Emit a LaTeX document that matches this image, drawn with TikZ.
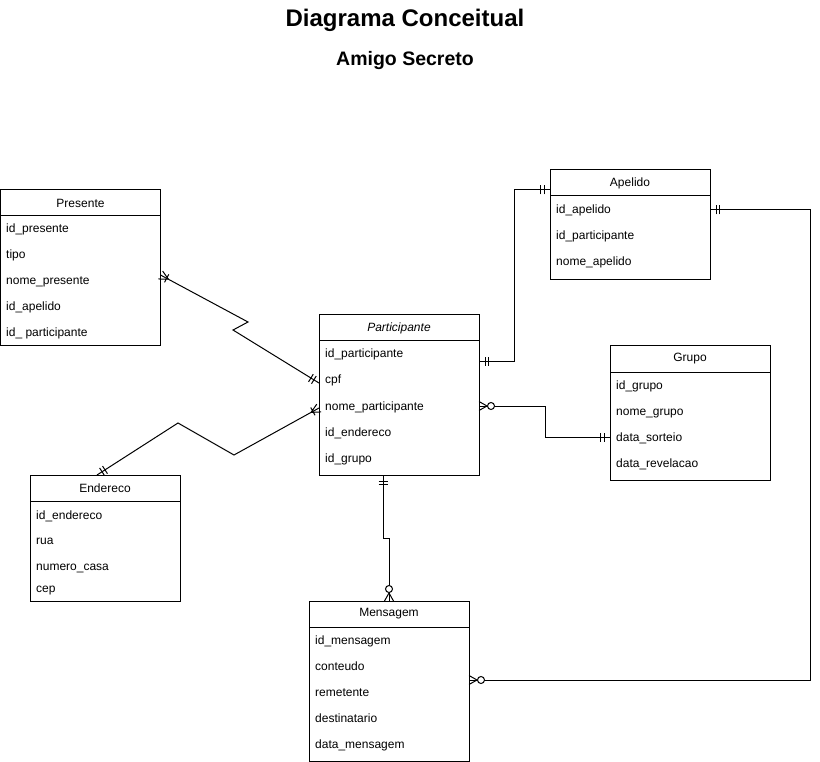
\documentclass[tikz,border=0pt]{standalone}
\usepackage{fontspec}
\setmainfont{Liberation Sans}
\usetikzlibrary{positioning,decorations.markings}

% pontas das ligacoes (desenhadas com a linha chegando por -x)
\newcommand{\mkum}{\draw[line width=1pt] (-6pt,-4.5pt) -- (-6pt,4.5pt) (-9.5pt,-4.5pt) -- (-9.5pt,4.5pt);}
\newcommand{\mkmuitos}{\draw[line width=1pt] (-9pt,0pt) -- (0pt,4.5pt) (-9pt,0pt) -- (0pt,-4.5pt) (-7pt,-4.5pt) -- (-7pt,4.5pt);}
\newcommand{\mkzeromuitos}{\draw[line width=1pt] (-8pt,0pt) -- (0pt,4.5pt) (-8pt,0pt) -- (0pt,-4.5pt);
  \draw[line width=1pt,fill=white] (-12pt,0pt) circle (3.5pt);}

\tikzset{
  cab/.style={draw, rectangle, line width=1pt, minimum width=160pt, minimum height=26pt,
    inner sep=0pt, outer sep=0pt, font=\fontsize{12}{14}\selectfont},
  corpo/.style={draw, rectangle, line width=1pt, minimum width=160pt, inner sep=0pt, outer sep=0pt},
  campo/.style={anchor=west, inner sep=0pt, text height=9pt, text depth=3pt, font=\fontsize{12}{14}\selectfont},
  lig/.style={line width=1pt},
  ponta/.style 2 args={postaction={decorate,decoration={markings,mark=at position #1 with {#2}}}},
  uminicio/.style={ponta={0}{\begin{scope}[xscale=-1]\mkum\end{scope}}},
  umfim/.style={ponta={1}{\mkum}},
  muitosinicio/.style={ponta={0}{\begin{scope}[xscale=-1]\mkmuitos\end{scope}}},
  muitosfim/.style={ponta={1}{\mkmuitos}},
  zminicio/.style={ponta={0}{\begin{scope}[xscale=-1]\mkzeromuitos\end{scope}}},
  zmfim/.style={ponta={1}{\mkzeromuitos}}
}

\begin{document}
\begin{tikzpicture}[x=1pt,y=-1pt]
\useasboundingbox (0,0) rectangle (820,762);

\node[font=\bfseries\fontsize{24}{28}\selectfont] (titulo) at (405,20) {Diagrama Conceitual};
\node[font=\bfseries\fontsize{19.5}{24}\selectfont] (sub) at (405,61) {Amigo Secreto};

% Presente
\node[cab] (pres) at (80.5,203) {Presente};
\node[corpo, minimum height=130pt, below=0pt of pres] (presc) {};
\foreach \t [count=\i] in {id\_presente, tipo, nome\_presente, id\_apelido, id\_ participante}
  \node[campo] (pres\i) at (6, 204+26*\i) {\t};

% Apelido
\node[cab] (ape) at (630,183) {Apelido};
\node[corpo, minimum height=84pt, below=0pt of ape] (apec) {};
\foreach \t [count=\i] in {id\_apelido, id\_participante, nome\_apelido}
  \node[campo] (ape\i) at (556, 185+26*\i) {\t};

% Participante
\node[cab, font=\itshape\fontsize{12}{14}\selectfont] (part) at (399,328) {Participante};
\node[corpo, minimum height=134pt, below=0pt of part] (partc) {};
\foreach \t [count=\i] in {id\_participante, cpf, nome\_participante, id\_endereco, id\_grupo}
  \node[campo] (part\i) at (325, 329+26*\i) {\t};

% Grupo
\node[cab] (grupo) at (690,359) {Grupo};
\node[corpo, minimum height=108pt, below=0pt of grupo] (grupoc) {};
\foreach \t [count=\i] in {id\_grupo, nome\_grupo, data\_sorteio, data\_revelacao}
  \node[campo] (grupo\i) at (616, 360+26*\i) {\t};

% Endereco
\node[cab, minimum width=150pt] (ende) at (105,488) {Endereco};
\node[corpo, minimum width=150pt, minimum height=100pt, below=0pt of ende] (endec) {};
\foreach \t/\y [count=\i] in {id\_endereco/516, rua/541, numero\_casa/567, cep/589}
  \node[campo] (ende\i) at (36, \y) {\t};

% Mensagem
\node[cab] (mens) at (389,614) {Mensagem};
\node[corpo, minimum height=134pt, below=0pt of mens] (mensc) {};
\foreach \t [count=\i] in {id\_mensagem, conteudo, remetente, destinatario, data\_mensagem}
  \node[campo] (mens\i) at (315, 615+26*\i) {\t};

% ligacoes
\draw[lig, muitosinicio, umfim] ([yshift=7pt]presc.east |- pres3) -- (248,322) -- (233,330) -- ([yshift=-2pt]partc.west |- part2);
\draw[lig, uminicio, muitosfim] ([xshift=-8pt]ende.north) -- (178,423) -- (234,455) -- ([yshift=-1pt]partc.west |- part3);
\draw[lig, uminicio, umfim] ([yshift=-6pt]partc.east |- part1) -- ++(35,0) |- ([yshift=-7pt]ape.west);
\draw[lig, zminicio, umfim] ([yshift=1pt]partc.east |- part3) -- ++(66,0) |- ([yshift=1pt]grupoc.west |- grupo3);
\draw[lig, uminicio, zmfim] ([xshift=-16pt]partc.south) -- ++(0,63) -| (mens.north);
\draw[lig, uminicio, zmfim] ([yshift=1pt]apec.east |- ape1) -- ++(100,0) |- ([yshift=14pt]mensc.east);
\end{tikzpicture}
\end{document}
